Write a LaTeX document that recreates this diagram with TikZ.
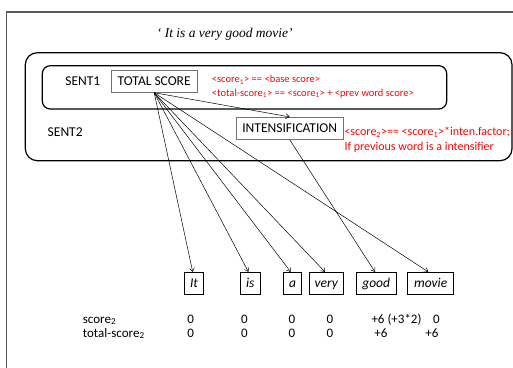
\documentclass[tikz,border=0pt]{standalone}
\usepackage{fontspec}
\setmainfont{Carlito}
\newfontfamily\tnr{Liberation Serif}
\usetikzlibrary{arrows.meta}
\begin{document}
\begin{tikzpicture}[x=1pt,y=-1pt,
  lbl/.style={inner sep=0pt, font=\fontsize{13.5}{15}\selectfont, text height=8pt, text depth=0pt},
  rowlbl/.style={inner sep=0pt, font=\fontsize{13}{15}\selectfont, text height=8pt, text depth=0pt},
  redsmall/.style={inner sep=0pt, anchor=west, text=red, font=\fontsize{10.5}{12}\selectfont, text height=6pt, text depth=0pt},
  redbig/.style={inner sep=0pt, anchor=west, text=red, font=\fontsize{12}{14}\selectfont, text height=7pt, text depth=0pt},
  graybox/.style={draw=black!55, line width=0.8pt, inner sep=0pt, minimum height=22pt, font=\fontsize{13.5}{15}\selectfont, text height=8pt, text depth=0pt},
  wordbox/.style={draw=black, line width=0.8pt, inner sep=0pt, minimum height=22pt, font=\fontsize{13.5}{15}\selectfont\itshape, text height=8pt, text depth=0pt},
  arr/.style={-{Straight Barb[length=3.5pt,width=5pt]}, line width=0.5pt},
  roundbox/.style={draw=black, line width=1.2pt}
]
\useasboundingbox (0,0) rectangle (513,367);
% outer frame
\draw[black!65, line width=1.2pt] (6.5,368) -- (6.5,12) -- (514,12);
% title
\node[inner sep=0pt, font=\tnr\fontsize{13.5}{15}\selectfont\itshape] (title) at (224.8,34) {‘ It is a very good movie’};
% rounded boxes
\draw[roundbox, rounded corners=12pt] (25.3,52.7) rectangle (512,160.7);
\draw[roundbox, rounded corners=8pt] (42.3,65.7) rectangle (446.7,109);
% labels
\node[lbl] (sent1) at (82.8,81.7) {SENT1};
\node[lbl] (sent2) at (65.2,132.7) {SENT2};
\node[graybox, minimum width=85.7pt] (tot) at (154.2,81.3) {TOTAL SCORE};
\node[graybox, minimum width=107.3pt] (int) at (289.7,128.3) {INTENSIFICATION};
% red notes
\node[redsmall] (r1) at (211.7,79.8) {<score\textsubscript{1}> == <base score>};
\node[redsmall] (r2) at (211.7,93) {<total-score\textsubscript{1}> == <score\textsubscript{1}> + <prev word score>};
\node[redbig] (r3) at (344.3,131.7) {<score\textsubscript{2}>== <score\textsubscript{1}>*inten.factor;};
\node[redbig] (r4) at (344.3,147.3) {If previous word is a intensifier};
% word boxes
\node[wordbox, minimum width=19.4pt] (w1) at (194,283.3) {It};
\node[wordbox, minimum width=19.7pt] (w2) at (250.2,283.3) {is};
\node[wordbox, minimum width=18.4pt] (w3) at (292.5,283.3) {a};
\node[wordbox, minimum width=34.7pt] (w4) at (326.3,283.3) {very};
\node[wordbox, minimum width=39.7pt] (w5) at (376.2,283.3) {good};
\node[wordbox, minimum width=46pt] (w6) at (430.7,283.3) {movie};
% arrows
\draw[arr] (tot.south) -- (int.north);
\draw[arr] (tot.south) -- ([xshift=-1.3pt]w1.north);
\draw[arr] (tot.south) -- ([xshift=-1.8pt]w2.north);
\draw[arr] (tot.south) -- ([xshift=-1.8pt]w3.north);
\draw[arr] (tot.south) -- ([xshift=-1.3pt]w4.north);
\draw[arr] (tot.south) -- ([xshift=-2.4pt]w6.north);
\draw[arr] (int.south) -- ([xshift=-1.2pt]w5.north);
% score rows
\node[rowlbl, anchor=west] (s2) at (82.7,319) {score\textsubscript{2}};
\node[rowlbl, anchor=west] (ts2) at (82.7,333) {total-score\textsubscript{2}};
\node[rowlbl] (a1) at (190.7,319) {0};
\node[rowlbl] (a2) at (244.3,319) {0};
\node[rowlbl] (a3) at (292,319) {0};
\node[rowlbl] (a4) at (330,319) {0};
\node[rowlbl] (a5) at (396.5,319) {+6 (+3*2)};
\node[rowlbl] (a6) at (436.5,319) {0};
\node[rowlbl] (b1) at (190.7,333) {0};
\node[rowlbl] (b2) at (244.3,333) {0};
\node[rowlbl] (b3) at (292,333) {0};
\node[rowlbl] (b4) at (330,333) {0};
\node[rowlbl] (b5) at (381,333) {+6};
\node[rowlbl] (b6) at (432,333) {+6};
\end{tikzpicture}
\end{document}
